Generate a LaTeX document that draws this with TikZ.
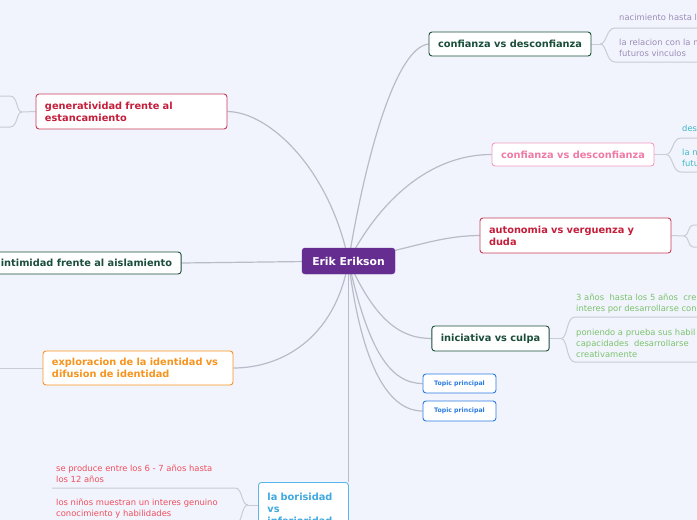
\documentclass[tikz,border=0pt]{standalone}
\usepackage{fontspec}
\setmainfont{DejaVu Sans}
\pgfdeclarelayer{background}
\pgfdeclarelayer{canvas}
\pgfsetlayers{canvas,background,main}
\definecolor{bg}{HTML}{F1F4FC}
\definecolor{dgreen}{HTML}{1A4D3A}
\definecolor{crimb}{HTML}{C83C5A}
\definecolor{crim}{HTML}{C41E3A}
\definecolor{pinkb}{HTML}{F49AC1}
\definecolor{pinkt}{HTML}{F07AA6}
\definecolor{orng}{HTML}{F7941D}
\definecolor{lblue}{HTML}{5BB8EA}
\definecolor{lbluet}{HTML}{3FA9E0}
\definecolor{tblue}{HTML}{2B7BE0}
\definecolor{purp}{HTML}{662D91}
\definecolor{purpt}{HTML}{9C8CB8}
\definecolor{teal}{HTML}{3FB8C8}
\definecolor{grn}{HTML}{7CC26E}
\definecolor{redt}{HTML}{F04E5E}
\definecolor{conn}{HTML}{B8BCC8}
\definecolor{subl}{HTML}{C8CCD6}
\begin{document}
\begin{tikzpicture}[x=1pt,y=-1pt,
  topic/.style={draw, fill=white, rounded corners=3pt, line width=0.9pt, inner xsep=9pt, inner ysep=2pt,
     font=\bfseries\fontsize{9.8}{12}\selectfont, align=left},
  smalltopic/.style={draw=tblue, text=tblue, fill=white, rounded corners=3pt, line width=0.9pt,
     font=\bfseries\fontsize{6.2}{7}\selectfont, minimum width=73, minimum height=19},
  sub/.style={inner sep=0pt, anchor=north west, align=left, font=\fontsize{8.4}{11}\selectfont},
  conline/.style={draw=conn, line width=1.2pt},
  subline/.style={draw=subl, line width=1pt}]
\useasboundingbox (0,0) rectangle (697,520);
\begin{pgfonlayer}{canvas}
\fill[bg] (0,0) rectangle (697,520);
\end{pgfonlayer}
\clip (0,0) rectangle (697,520);

% central node
\node[draw=purp, fill=purp, text=white, rounded corners=3pt, font=\bfseries\fontsize{10.8}{12}\selectfont,
      minimum width=93, minimum height=26] (ek) at (348.5,261) {Erik Erikson};

% main topics
\node[topic, draw=dgreen, text=dgreen, minimum width=162, minimum height=24] (c1) at (510,44) {confianza vs desconfianza};
\node[topic, draw=pinkb, text=pinkt, minimum width=162, minimum height=23] (pk) at (573,154.5) {confianza vs desconfianza};
\node[topic, draw=crimb, text=crim, text width=173, minimum height=35] (au) at (575.5,235.5) {autonomia vs verguenza y\\duda};
\node[topic, draw=dgreen, text=dgreen, minimum width=117, minimum height=25] (in) at (490.5,338.5) {iniciativa vs culpa};
\node[smalltopic] (t1) at (459.5,383.5) {Topic principal};
\node[smalltopic, minimum height=20] (t2) at (459.5,411) {Topic principal};
\node[topic, draw=crimb, text=crim, text width=173, minimum height=35] (ge) at (131.5,111.5) {generatividad frente al\\estancamiento};
\node[topic, draw=dgreen, text=dgreen, minimum width=185, minimum height=22] (it) at (86.5,263) {intimidad frente al aislamiento};
\node[topic, draw=orng, text=orng, text width=172, minimum height=34] (ex) at (138,368) {exploracion de la identidad vs\\difusion de identidad};
\node[topic, draw=lblue, text=lbluet, text width=72, minimum height=53, anchor=north west, inner ysep=4pt] (bo) at (258,482) {la borisidad\\vs\\inferioridad};

% subtopic texts
\node[sub, text=purpt] (c1a) at (619,13.5) {nacimiento hasta l};
\node[sub, text=purpt] (c1b) at (619,38.5) {la relacion con la m\\futuros vinculos};
\node[sub, text=teal] (p1a) at (682,124.5) {des};
\node[sub, text=teal] (p1b) at (682,148.5) {la n\\futu};
\node[sub, text=grn] (i1a) at (576,293.5) {3 años\ \ hasta los 5 años\ \ cre\\interes por desarrollarse con};
\node[sub, text=grn] (i1b) at (576,328.5) {poniendo a prueba sus habil\\capacidades\ \ desarrollarse\\creativamente};
\node[sub, text=redt] (b1a) at (56,464.5) {se produce entre los 6 - 7 años hasta\\los 12 años};
\node[sub, text=redt] (b1b) at (56,498.5) {los niños muestran un interes genuino\\conocimiento y habilidades};

% knots and free ends
\coordinate (c1k) at (600,44);
\coordinate (pkk) at (666,154.5);
\coordinate (auk) at (684,236);
\coordinate (ink) at (561,338.5);
\coordinate (gek) at (22,112);
\coordinate (bok) at (248,505);
\coordinate (e1) at (697,28);
\coordinate (e2) at (697,62);
\coordinate (e3) at (697,138);
\coordinate (e4) at (697,172);
\coordinate (e5) at (697,225);
\coordinate (e6) at (697,247);
\coordinate (e7) at (697,317);
\coordinate (e8) at (697,362);
\coordinate (e9) at (0,96);
\coordinate (e10) at (0,127);
\coordinate (e11) at (0,368);
\coordinate (e12) at (52,488);
\coordinate (e13) at (52,524);

\begin{pgfonlayer}{background}
\clip (0,0) rectangle (697,520);
% main connectors
\draw[conline] (ek.center) .. controls (365,160) and (395,48) .. (c1.west);
\draw[conline] (ek.center) .. controls (380,200) and (430,154.5) .. (pk.west);
\draw[conline] (ek.center) .. controls (420,246) and (440,236) .. (au.west);
\draw[conline] (ek.center) .. controls (375,320) and (400,338.5) .. (in.west);
\draw[conline] (ek.center) .. controls (368,350) and (390,383.5) .. (t1.west);
\draw[conline] (ek.center) .. controls (362,370) and (390,411) .. (t2.west);
\draw[conline] (ek.center) -- (ek.center |- bo.north);
\draw[conline] (ek.center) .. controls (330,170) and (270,112) .. (ge.east);
\draw[conline] (ek.center) -- (it.east);
\draw[conline] (ek.center) .. controls (335,340) and (280,368) .. (ex.east);

% subtopic lines
\draw[subline] (c1.east) -- (c1k);
\draw[subline] (c1k) .. controls (607,44) and (606,28) .. (615,28) -- (e1);
\draw[subline] (c1k) .. controls (607,44) and (606,62) .. (615,62) -- (e2);
\draw[subline] (pk.east) -- (pkk);
\draw[subline] (pkk) .. controls (673,154.5) and (672,138) .. (681,138) -- (e3);
\draw[subline] (pkk) .. controls (673,154.5) and (672,172) .. (681,172) -- (e4);
\draw[subline] (au.east) -- (auk);
\draw[subline] (auk) .. controls (689,236) and (688,225) .. (693,225) -- (e5);
\draw[subline] (auk) .. controls (689,236) and (688,247) .. (693,247) -- (e6);
\draw[subline] (in.east) -- (ink);
\draw[subline] (ink) .. controls (568,338.5) and (566,317) .. (575,317) -- (e7);
\draw[subline] (ink) .. controls (568,338.5) and (566,362) .. (575,362) -- (e8);
\draw[subline] (ge.west) -- (gek);
\draw[subline] (gek) .. controls (16,112) and (18,96) .. (10,96) -- (e9);
\draw[subline] (gek) .. controls (16,112) and (18,127) .. (10,127) -- (e10);
\draw[subline] (ex.west) -- (e11);
\draw[subline] (bo.west |- bok) -- (bok);
\draw[subline] (bok) .. controls (241,505) and (243,488) .. (235,488) -- (e12);
\draw[subline] (bok) .. controls (241,505) and (243,524) .. (235,524) -- (e13);
\end{pgfonlayer}
\end{tikzpicture}
\end{document}
